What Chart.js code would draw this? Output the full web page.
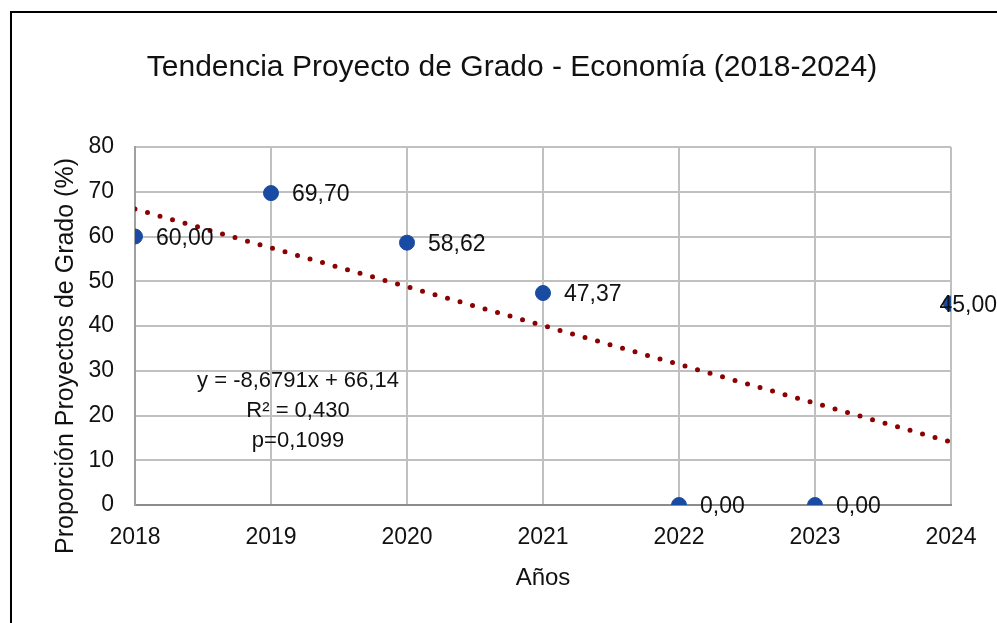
<!DOCTYPE html>
<html>
<head>
<meta charset="utf-8">
<script src="https://cdn.jsdelivr.net/npm/chart.js@4/dist/chart.umd.min.js"></script>
<style>
  html, body { margin: 0; padding: 0; background: #fff; }
  #wrap { position: relative; width: 997px; height: 623px; overflow: hidden; }
  #frame { position: absolute; left: 10px; top: 11px; width: 1200px; height: 800px;
           border-left: 2px solid #000; border-top: 2px solid #000; pointer-events: none; }
</style>
</head>
<body>
<div id="wrap">
  <canvas id="chart" width="997" height="623"></canvas>
  <div id="frame"></div>
</div>
<script>
// Data
const years = [2018, 2019, 2020, 2021, 2022, 2023, 2024];
const proportions = [60.00, 69.70, 58.62, 47.37, 0.00, 0.00, 45.00];
const yTicks = [0, 10, 20, 30, 40, 50, 60, 70, 80];

// Linear trend shown on the chart: y = -8,6791x + 66,14 (x = 0 at 2018)
const trendSlope = -8.6791;
const trendIntercept = 66.14;
const trendLines = ["y = -8,6791x + 66,14", "R\u00B2 = 0,430", "p=0,1099"];

const chartTitle = "Tendencia Proyecto de Grado - Econom\u00EDa (2018-2024)";
const xTitle = "A\u00F1os";
const yTitle = "Proporci\u00F3n Proyectos de Grado (%)";

const FONT = "'Liberation Sans', Arial, sans-serif";
const TEXT = "#111111";

const trendPoints = [years[0], years[years.length - 1]].map(y => ({
    x: y,
    y: trendIntercept + trendSlope * (y - years[0])
}));

const extras = {
    id: "extras",
    afterDraw(chart) {
        const ctx = chart.ctx;
        ctx.save();
        ctx.fillStyle = TEXT;

        // title
        ctx.font = "30px " + FONT;
        ctx.textAlign = "center";
        ctx.textBaseline = "middle";
        ctx.fillText(chartTitle, 512, 68);

        // y axis title
        ctx.save();
        ctx.translate(66, 356);
        ctx.rotate(-Math.PI / 2);
        ctx.font = "25px " + FONT;
        ctx.fillText(yTitle, 0, 0);
        ctx.restore();

        // trend equation text
        ctx.font = "22px " + FONT;
        trendLines.forEach((t, i) => {
            ctx.fillText(t, 298, 381 + i * 30);
        });

        // data labels
        const meta = chart.getDatasetMeta(0);
        ctx.font = "23px " + FONT;
        ctx.textAlign = "left";
        meta.data.forEach((pt, i) => {
            const txt = proportions[i].toFixed(2).replace(".", ",");
            const w = ctx.measureText(txt).width;
            let x = pt.x + 21;
            if (x + w > chart.width) x = chart.width - w;
            ctx.fillText(txt, x, pt.y + 2);
        });
        ctx.restore();
    }
};

new Chart(document.getElementById("chart"), {
    type: "scatter",
    data: {
        datasets: [
            {
                label: "Proporción",
                data: years.map((y, i) => ({ x: y, y: proportions[i] })),
                backgroundColor: "#1a4ba3",
                borderColor: "#1a4ba3",
                pointRadius: 7.5,
                pointHoverRadius: 7.5,
                order: 1
            },
            {
                type: "line",
                label: "Tendencia",
                data: trendPoints,
                borderColor: "#8b0000",
                borderWidth: 5,
                borderDash: [0, 13],
                borderCapStyle: "round",
                pointRadius: 0,
                fill: false,
                order: 2
            }
        ]
    },
    options: {
        responsive: false,
        animation: false,
        layout: { padding: { left: 0, right: 46, top: 147, bottom: 0 } },
        plugins: {
            legend: { display: false },
            tooltip: { enabled: false },
            title: { display: false }
        },
        scales: {
            x: {
                type: "linear",
                min: years[0],
                max: years[years.length - 1],
                afterBuildTicks: s => { s.ticks = years.map(v => ({ value: v })); },
                afterFit: s => { s.height = 118; },
                ticks: {
                    callback: v => String(v),
                    color: TEXT,
                    font: { family: FONT, size: 23 },
                    padding: 19,
                    maxRotation: 0
                },
                grid: { color: "#c0c0c0", lineWidth: 2, drawTicks: false },
                border: { color: "#8c8c8c", width: 2 },
                title: {
                    display: true,
                    text: xTitle,
                    color: TEXT,
                    font: { family: FONT, size: 24 },
                    padding: { top: 4, bottom: 30 }
                }
            },
            y: {
                min: 0,
                max: 80,
                afterBuildTicks: s => { s.ticks = yTicks.map(v => ({ value: v })); },
                afterFit: s => { s.width = 135; },
                ticks: {
                    color: TEXT,
                    font: { family: FONT, size: 23 },
                    padding: 21
                },
                grid: { color: "#c0c0c0", lineWidth: 2, drawTicks: false },
                border: { color: "#a0a0a0", width: 2 }
            }
        }
    },
    plugins: [extras]
});
</script>
</body>
</html>
